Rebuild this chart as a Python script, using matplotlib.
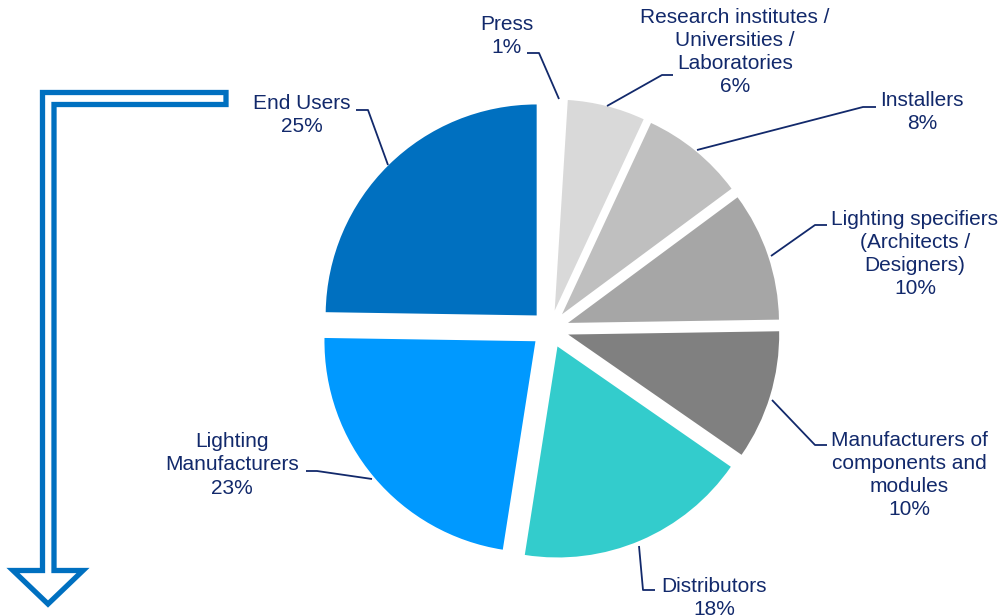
import matplotlib
matplotlib.use("Agg")
import matplotlib.pyplot as plt
from matplotlib.patches import Polygon

# data
categories = ["Press", "Research institutes /\nUniversities /\nLaboratories", "Installers",
              "Lighting specifiers\n(Architects /\nDesigners)",
              "Manufacturers of\ncomponents and\nmodules", "Distributors",
              "Lighting\nManufacturers", "End Users"]
shares = [1, 6, 8, 10, 10, 18, 23, 25]
colors = ["#FFFFFF", "#D9D9D9", "#BFBFBF", "#A6A6A6", "#808080",
          "#33CCCC", "#0099FF", "#0070C0"]

W, H = 1003, 615
navy = "#12296B"

# label layout in pixel coords (text centre, leader line path)
label_pos = [(507, 36), (735, 52), (922, 112), (915, 254),
             (909, 475), (714, 598), (232, 465), (302, 115)]
leaders = [
    [(527, 53), (539, 53), (559, 99)],
    [(607, 106), (662, 75), (673, 75)],
    [(697, 150), (863, 107), (876, 107)],
    [(771, 256), (815, 225), (827, 225)],
    [(772, 400), (815, 445), (827, 445)],
    [(639, 546), (643, 590), (655, 590)],
    [(372, 479), (317, 471), (306, 471)],
    [(388, 165), (368, 110), (356, 110)],
]


def Y(y):
    return H - y


fig = plt.figure(figsize=(W / 100, H / 100), dpi=100)
ax = fig.add_axes([0, 0, 1, 1])

# explode is in data units here (pixels), not a fraction of the radius
ax.pie(shares, colors=colors, startangle=90, counterclock=False,
       explode=[19] * len(shares), radius=211, center=(550, Y(329)),
       wedgeprops=dict(linewidth=0))

ax.set_xlim(0, W)
ax.set_ylim(0, H)
ax.set_aspect("equal")
ax.axis("off")

for name, val, (tx, ty), path in zip(categories, shares, label_pos, leaders):
    ax.text(tx, Y(ty), f"{name}\n{val}%", ha="center", va="center",
            fontsize=15, color=navy, family=["Liberation Sans", "DejaVu Sans"],
            linespacing=1.28)
    xs = [p[0] for p in path]
    ys = [Y(p[1]) for p in path]
    ax.plot(xs, ys, color=navy, lw=1.3, solid_capstyle="butt")

# bent outline arrow on the left
arrow_pts = [(226, 92.5), (42.5, 92.5), (42.5, 570.5), (13, 570.5),
             (48, 604), (83, 570.5), (54, 570.5), (54, 104.5), (226, 104.5)]
ax.add_patch(Polygon([(x, Y(y)) for x, y in arrow_pts], closed=True,
                     facecolor="white", edgecolor="#0070C0", lw=3.8,
                     joinstyle="miter"))

fig.savefig("out.png", dpi=100, facecolor="white")
